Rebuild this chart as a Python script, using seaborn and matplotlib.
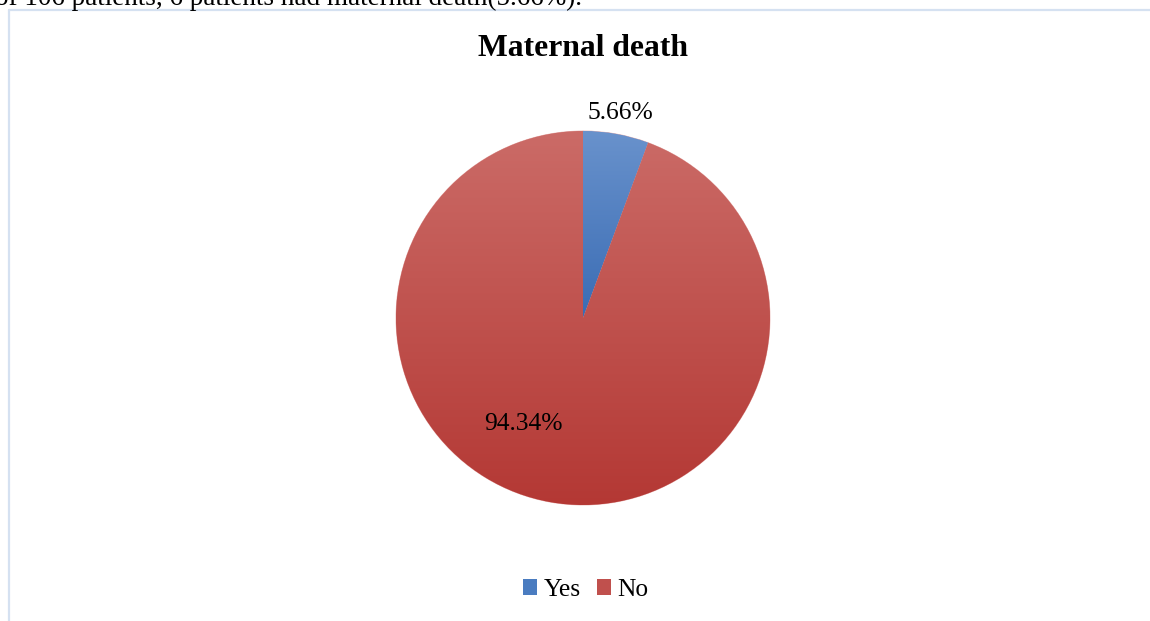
import numpy as np
import matplotlib
matplotlib.use("Agg")
import matplotlib.pyplot as plt
import seaborn as sns
from matplotlib.lines import Line2D
from matplotlib.colors import to_rgb

categories = ["Yes", "No"]
percentages = [5.66, 94.34]
title = "Maternal death"
header_text = "of 106 patients, 6 patients had maternal death(5.66%)."

sns.set_theme(style="white")
plt.rcParams['font.family'] = ['Liberation Serif', 'DejaVu Serif']
plt.rcParams['text.color'] = 'black'

W, H = 1150, 621
fig = plt.figure(figsize=(W / 100, H / 100), dpi=100)
fig.patch.set_facecolor("white")
cx, cy, r = 583, 318, 187
ax = fig.add_axes([(cx - r) / W, (H - cy - r) / H, 2 * r / W, 2 * r / H])

palette = sns.color_palette(["#4f7fc0", "#c0504d"])
wedges, texts, autotexts = ax.pie(
    percentages, colors=palette, startangle=90, counterclock=False,
    autopct=lambda p: f"{p:.2f}%", pctdistance=1.115,
    wedgeprops=dict(linewidth=0.6, edgecolor="#e9b4b2"),
    textprops=dict(fontsize=18.4, color="black"))

# vertical gradient fill (light top -> darker bottom), clipped to each wedge
grads = [("#6992cc", "#3a6cb4"), ("#cb6b67", "#b43834")]
for w, (top, bot) in zip(wedges, grads):
    verts = w.get_patch_transform().transform(w.get_path().vertices)
    ymin, ymax = verts[:, 1].min(), verts[:, 1].max()
    t = np.linspace(0, 1, 256)[:, None]
    c1, c2 = np.array(to_rgb(top)), np.array(to_rgb(bot))
    img = (c1[None, None, :] * (1 - t[..., None]) + c2[None, None, :] * t[..., None])
    img = np.repeat(img, 2, axis=1)
    im = ax.imshow(img, extent=(-1, 1, ymin, ymax), aspect="auto",
                   interpolation="bilinear", zorder=w.get_zorder() + 0.1)
    im.set_clip_path(w)

ax.set_xlim(-1, 1)
ax.set_ylim(-1, 1)
ax.set_aspect("auto")
ax.axis("off")
for t_ in autotexts:
    t_.set_zorder(5)
autotexts[1].set_position(((523 - cx) / r, (cy - 424) / r))

leg = fig.legend(wedges, categories, loc="center", bbox_to_anchor=(586 / W, 1 - 590 / H),
                 ncol=2, frameon=False, fontsize=18.4, handlelength=0.55, handleheight=0.55,
                 handletextpad=0.25, columnspacing=0.65, labelcolor="black")
for h, c in zip(leg.legend_handles, ["#4a7cc0", "#c0504d"]):
    h.set_facecolor(c)
    h.set_edgecolor("none")

fig.text(583 / W, 1 - 49 / H, title, ha="center", va="center", fontsize=22.8, fontweight="bold",
         color="black")
fig.text(-0.004, 1 - 5 / H, header_text, ha="left", va="baseline", fontsize=19.5, color="black")

lc = "#d5e1f1"
fig.add_artist(Line2D([8.5 / W, 8.5 / W], [0, 1 - 9.5 / H], color=lc, lw=1.6, transform=fig.transFigure))
fig.add_artist(Line2D([8.5 / W, 1], [1 - 9.5 / H, 1 - 9.5 / H], color=lc, lw=1.6, transform=fig.transFigure))

fig.savefig("out.png", dpi=100, facecolor="white")
